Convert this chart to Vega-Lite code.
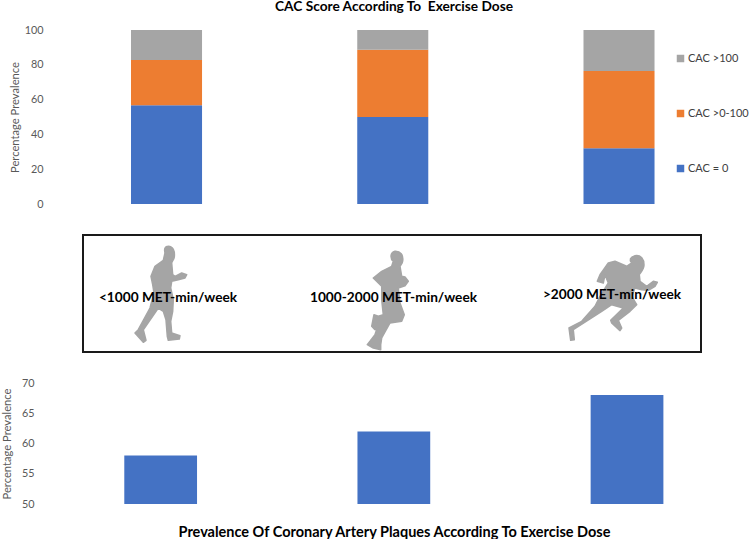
{
"$schema":"https://vega.github.io/schema/vega-lite/v6.json",
"background":"white",
"padding":{"left":1,"top":-1,"right":0,"bottom":0},
"bounds":"flush",
"spacing":31,
"config":{"view":{"stroke":null},"font":"Lato"},
"datasets":{
"doses":[{"dose":"<1000 MET-min/week"},{"dose":"1000-2000 MET-min/week"},{"dose":">2000 MET-min/week"}]
},
"vconcat":[
{
"width":700,"height":174,
"title":{"text":"CAC Score According To \u00a0Exercise Dose","font":"Lato","fontWeight":"bold","fontSize":13.7,"color":"#000000","anchor":"middle","offset":10.5},
"data":{"values":[
{"dose":"<1000 MET-min/week","cat":"CAC = 0","pct":56.7},
{"dose":"<1000 MET-min/week","cat":"CAC >0-100","pct":26.1},
{"dose":"<1000 MET-min/week","cat":"CAC >100","pct":17.2},
{"dose":"1000-2000 MET-min/week","cat":"CAC = 0","pct":50},
{"dose":"1000-2000 MET-min/week","cat":"CAC >0-100","pct":38.7},
{"dose":"1000-2000 MET-min/week","cat":"CAC >100","pct":11.3},
{"dose":">2000 MET-min/week","cat":"CAC = 0","pct":32},
{"dose":">2000 MET-min/week","cat":"CAC >0-100","pct":44.4},
{"dose":">2000 MET-min/week","cat":"CAC >100","pct":23.6}
]},
"mark":{"type":"bar"},
"encoding":{
"x":{"field":"dose","type":"nominal","sort":null,"axis":null,"scale":{"type":"band","paddingInner":0.686,"paddingOuter":0.39,"align":0.493}},
"y":{"field":"pct","type":"quantitative","stack":"zero","scale":{"domain":[0,100],"nice":false},
"axis":{"title":"Percentage Prevalence","values":[0,20,40,60,80,100],"grid":false,"domain":false,"ticks":false,"labelPadding":1,"labelFont":"Lato","labelFontSize":10.8,"labelColor":"#595959","titleFont":"Lato","titleFontSize":11.2,"titleFontWeight":"normal","titleColor":"#595959","titlePadding":4}},
"color":{"field":"cat","type":"nominal","scale":{"domain":["CAC >100","CAC >0-100","CAC = 0"],"range":["#A5A5A5","#ED7D31","#4472C4"]},
"legend":{"title":null,"orient":"none","legendX":631,"legendY":23,"symbolType":"square","symbolSize":56,"symbolStrokeWidth":0,"rowPadding":43,"labelFont":"Lato","labelFontSize":11,"labelColor":"#404040","labelOffset":2,"labelLimit":100}},
"order":{"field":"cat","sort":"ascending"}
}
},
{
"width":700,"height":117,
"data":{"name":"doses"},
"resolve":{"scale":{"x":"independent"}},
"layer":[
{"data":{"values":[{"left":39,"right":657}]},
"mark":{"type":"rect","fill":"transparent","stroke":"#1a1a1a","strokeWidth":2},
"encoding":{"x":{"field":"left","type":"quantitative","axis":null,"scale":{"domain":[0,700],"nice":false,"zero":false}},"x2":{"field":"right"},"y":{"datum":0,"type":"quantitative","axis":null,"scale":{"domain":[0,117],"nice":false}},"y2":{"datum":117}}},
{"layer":[
{"transform":[{"filter":{"field":"dose","equal":"<1000 MET-min/week"}}],
"mark":{"type":"point","filled":true,"opacity":1,"fill":"#A5A5A5","stroke":"#A5A5A5","strokeWidth":1.5,"strokeJoin":"round","size":4,"shape":"M0.3,-48.7C5,-48.7 7,-44 6.3,-38C6,-35 4,-34 3.7,-32L4.7,-20.3L7,-18.7L13.7,-22L18.7,-20.3L17,-17L10.3,-15.3L3.7,-13.7L2.7,-7L5.3,4.7L4.7,16.3L2.7,26.3L3.7,38L12,40.7L11.3,44L0.3,45.3L-0.7,41.3L-2,24.7L-4.7,16.3L-9.7,13L-24.7,34.7L-22,45.3L-24.7,47.3L-33,38L-29.7,34.7L-18,13L-14,-2L-15.3,-10.3L-17,-18.7L-13,-28.7L-4.7,-34.7L-3,-42C-4,-46 -3,-48.7 0.3,-48.7Z"}},
{"transform":[{"filter":{"field":"dose","equal":"1000-2000 MET-min/week"}}],
"mark":{"type":"point","filled":true,"opacity":1,"fill":"#A5A5A5","stroke":"#A5A5A5","strokeWidth":1.5,"strokeJoin":"round","size":4,"shape":"M2.5,-43.7C8,-44 11,-40 10.2,-34C10,-31 8,-30 7.5,-28.7L9.2,-18.7L12.5,-18L15.8,-13.7L12.5,-9.3L5.8,-7L7.5,8L11.8,19.7L9.2,26.3L-2.5,28L-10.8,43L-11.8,49.7L-11.8,54.7L-19.2,53L-25.2,49.7L-22.5,46.3L-17.5,39.7L-13.2,26.3L-17.5,34.7L-20.8,31.3L-18.5,19.7L-14.2,21.3L-9.2,19.7L-10.8,4.7L-10.8,-8.7L-19.2,-17L-10.8,-23.7L-0.8,-28.7L0.8,-33.7C-2,-36 -3,-42 2.5,-43.7Z"}},
{"transform":[{"filter":{"field":"dose","equal":">2000 MET-min/week"}}],
"mark":{"type":"point","filled":true,"opacity":1,"fill":"#A5A5A5","stroke":"#A5A5A5","strokeWidth":1.5,"strokeJoin":"round","size":4,"shape":"M18,-39.3C24,-40 27,-36 27,-30C27,-26 24,-23 22.3,-20.3L23,-13.7L29.7,-8.7L36.3,-13.7L40.3,-12.7L38,-8.7L31.3,-4.7L24.7,-5.3L18,-7L14.7,1.3L19.7,9.7L13,16.3L1.3,25.3L4.7,33L3,35.7L-5.3,28L-6.3,25.3L6.3,13L-5.3,9.7L-15.3,16.3L-43.7,34.7L-42.7,44.7L-46.3,45.3L-48,33L-35.3,26.3L-22,11.3L-17,1.3L-8.7,-12L-12,-20.3L-13.7,-12L-19.7,-13.7L-17,-20.3L-8.7,-32L-2,-33.7L9.7,-28.7L14.7,-32C12,-35 13,-38 18,-39.3Z"}},
{"transform":[{"filter":{"field":"dose","equal":"<1000 MET-min/week"}}],
"mark":{"type":"text","font":"Lato","fontWeight":"bold","fontSize":13.7,"color":"#000000","dx":0,"dy":2.5},
"encoding":{"text":{"field":"dose"}}},
{"transform":[{"filter":{"field":"dose","equal":"1000-2000 MET-min/week"}}],
"mark":{"type":"text","font":"Lato","fontWeight":"bold","fontSize":13.7,"color":"#000000","dx":1,"dy":2.5},
"encoding":{"text":{"field":"dose"}}},
{"transform":[{"filter":{"field":"dose","equal":">2000 MET-min/week"}}],
"mark":{"type":"text","font":"Lato","fontWeight":"bold","fontSize":13.7,"color":"#000000","dx":-5,"dy":-0.5},
"encoding":{"text":{"field":"dose"}}}
],
"encoding":{
"x":{"field":"dose","type":"nominal","sort":null,"axis":null,"scale":{"type":"point","padding":0.559,"align":0.494}},
"y":{"datum":57,"type":"quantitative","axis":null}
}}
]
},
{
"width":700,"height":121,
"data":{"values":[
{"dose":"<1000 MET-min/week","pct":58},
{"dose":"1000-2000 MET-min/week","pct":62},
{"dose":">2000 MET-min/week","pct":68}
]},
"mark":{"type":"bar","color":"#4472C4"},
"encoding":{
"x":{"field":"dose","type":"nominal","sort":null,"scale":{"type":"band","paddingInner":0.688,"paddingOuter":0.345,"align":0.499},
"axis":{"title":"Prevalence Of Coronary Artery Plaques According To Exercise Dose","labels":false,"domain":false,"ticks":false,"titleFont":"Lato","titleFontSize":14.5,"titleFontWeight":"bold","titleColor":"#000000","titlePadding":21}},
"y":{"field":"pct","type":"quantitative","scale":{"domain":[50,70],"nice":false,"zero":false},
"axis":{"title":"Percentage Prevalence","values":[50,55,60,65,70],"grid":false,"domain":false,"ticks":false,"labelPadding":10,"labelFont":"Lato","labelFontSize":10.8,"labelColor":"#595959","titleFont":"Lato","titleFontSize":11.2,"titleFontWeight":"normal","titleColor":"#595959","titlePadding":9}},
"y2":{"datum":50}
}
}
]
}
